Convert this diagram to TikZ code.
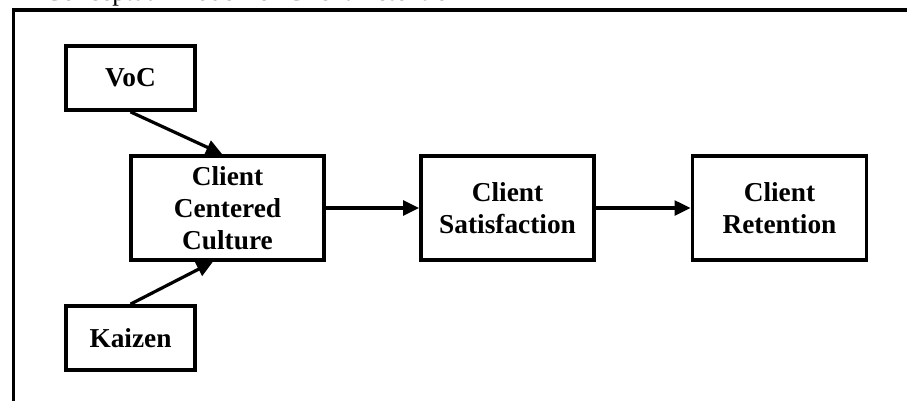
\documentclass[tikz,border=0pt]{standalone}
\usepackage{fontspec}
\setmainfont{Liberation Serif}
\usetikzlibrary{positioning,arrows.meta}

\tikzset{
  block/.style={draw, line width=2.8pt, align=center, font=\fontsize{20.5}{24}\selectfont\bfseries},
  link/.style={line width=2.4pt, -{Triangle[length=12pt,width=11pt]}}
}

\begin{document}
\begin{tikzpicture}[x=0.75pt,y=-0.75pt]
  \useasboundingbox (0,0) rectangle (907,401);
  % title runs off the top edge
  \node [anchor=base west, inner sep=0pt, font=\fontsize{20}{24}\selectfont] (title) at (44,0) {Conceptual Model for Client Retention};
  % frame
  \draw [line width=2.3pt] (13.5,401) -- (13.5,9);
  \draw [line width=3pt] (12,10) -- (907,10);

  \node [block, minimum width=129*0.75pt, minimum height=64*0.75pt] (voc) at (130.5,78) {VoC};
  \node [block, minimum width=193*0.75pt, minimum height=104*0.75pt] (ccc) at (227.5,208) {Client\\Centered\\Culture};
  \node [block, minimum width=129*0.75pt, minimum height=64*0.75pt] (kaizen) at (130.5,338) {Kaizen};
  \node [block, minimum width=173*0.75pt, minimum height=104*0.75pt, right=70pt of ccc] (sat) {Client\\Satisfaction};
  \node [block, minimum width=174*0.75pt, minimum height=104*0.75pt, right=71pt of sat] (ret) {Client\\Retention};

  \draw [link] (voc.south) -- ([xshift=-4pt]ccc.north);
  \draw [link] (kaizen.north) -- ([xshift=-11pt]ccc.south);
  \draw [link] (ccc) -- (sat);
  \draw [link] (sat) -- (ret);
\end{tikzpicture}
\end{document}
